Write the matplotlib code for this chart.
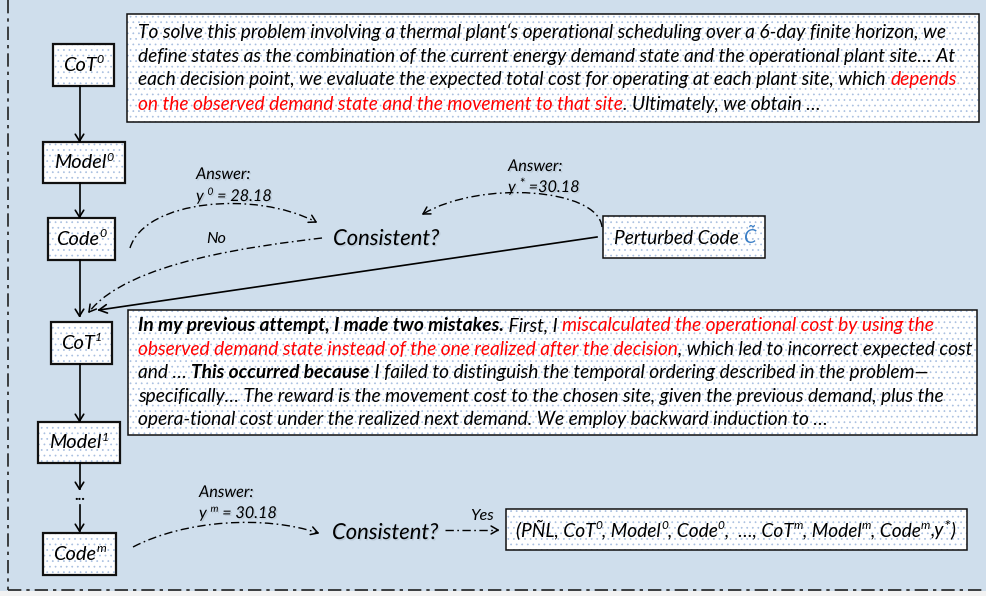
import numpy as np
import matplotlib
matplotlib.use("Agg")
import matplotlib.pyplot as plt
from matplotlib.patches import Rectangle, PathPatch
from matplotlib.path import Path
import matplotlib.patheffects as pe

plt.rcParams['font.family'] = ['Lato', 'DejaVu Sans']
plt.rcParams['mathtext.fontset'] = 'custom'
plt.rcParams['mathtext.it'] = 'Lato:italic'
plt.rcParams['mathtext.rm'] = 'Lato'
plt.rcParams['hatch.linewidth'] = 0.5

BG = '#CFDEEC'
RED = '#FF0000'
BLUE = '#3A7EC6'
DOT = '#A8BFE0'

# ---- content ----
# segments: (text, style)  n=normal, b=bold, r=red, s=superscript, a=asterisk
top_lines = [
    [("To solve this problem involving a thermal plant\u2018s operational scheduling over a 6-day finite horizon, we", "n")],
    [("define states as the combination of the current energy demand state and the operational plant site\u2026 At", "n")],
    [("each decision point, we evaluate the expected total cost for operating at each plant site, which ", "n"),
     ("depends", "r")],
    [("on the observed demand state and the movement to that site", "r"),
     (". Ultimately, we obtain \u2026", "n")],
]
mid_lines = [
    [("In my previous attempt, I made two mistakes.", "b"), (" First, I ", "n"),
     ("miscalculated the operational cost by using the", "r")],
    [("observed demand state instead of the one realized after the decision", "r"),
     (", which led to incorrect expected cost", "n")],
    [("and \u2026 ", "n"), ("This occurred because", "b"),
     (" I failed to distinguish the temporal ordering described in the problem\u2014", "n")],
    [("specifically\u2026 The reward is the movement cost to the chosen site, given the previous demand, plus the", "n")],
    [("opera-tional cost under the realized next demand. We employ backward induction to \u2026", "n")],
]
node_names = ['CoT', 'Model', 'Code', 'CoT', 'Model', 'Code']
node_sups = ['0', '0', '0', '1', '1', 'm']
answer_sups = ['0', '*', 'm']
answer_vals = ['= 28.18', '=30.18', '= 30.18']
final_segs = [("(P\u00d1L, CoT", "n"), ("0", "s"), (", Model", "n"), ("0", "s"), (", Code", "n"), ("0", "s"),
              (",  \u2026, CoT", "n"), ("m", "s"), (", Model", "n"), ("m", "s"), (", Code", "n"), ("m", "s"),
              (",y", "n"), ("*", "a"), (")", "n")]

fig = plt.figure(figsize=(9.86, 5.96), dpi=100, facecolor=BG)
ax = fig.add_axes([0, 0, 1, 1])
ax.set_xlim(0, 986)
ax.set_ylim(596, 0)
ax.axis('off')
renderer = fig.canvas.get_renderer()
PX = 100 / 72.0


def style_kw(style, size):
    kw = dict(fontsize=size, style='italic', va='baseline', ha='left')
    if 'b' in style:
        kw['weight'] = 'bold'
    kw['color'] = RED if 'r' in style else 'black'
    if 's' in style:
        kw['fontsize'] = size * 0.62
    if 'a' in style:
        kw['fontsize'] = size * 0.85
    return kw


def seg_width(s, kw):
    t1 = ax.text(0, 0, '|' + s + '|', **kw)
    t2 = ax.text(0, 0, '||', **kw)
    w = t1.get_window_extent(renderer).width - t2.get_window_extent(renderer).width
    t1.remove()
    t2.remove()
    return w


def draw_segs(x, y, segs, size, effects=None):
    for txt, st in segs:
        kw = style_kw(st, size)
        yy = y - size * PX * 0.38 if 's' in st else (y - size * PX * 0.25 if 'a' in st else y)
        ax.text(x, yy, txt, path_effects=effects, zorder=5, **kw)
        x += seg_width(txt, kw)
    return x


def segs_width(segs, size):
    return sum(seg_width(t, style_kw(st, size)) for t, st in segs)


def box(x0, y0, x1, y1, lw=1.1):
    ax.add_patch(Rectangle((x0, y0), x1 - x0, y1 - y0, facecolor='white', edgecolor=DOT,
                           hatch='...', lw=0, zorder=2))
    ax.add_patch(Rectangle((x0, y0), x1 - x0, y1 - y0, facecolor='none', edgecolor='#111111',
                           lw=lw, zorder=3))


def head(tip, frm, size=8, ang=30, lw=1.1):
    tip = np.array(tip, float)
    d = tip - np.array(frm, float)
    d /= np.hypot(*d)
    for s in (1, -1):
        a = np.radians(s * ang)
        r = np.array([d[0] * np.cos(a) - d[1] * np.sin(a), d[0] * np.sin(a) + d[1] * np.cos(a)])
        p = tip - size * r
        ax.plot([p[0], tip[0]], [p[1], tip[1]], color='black', lw=lw, solid_capstyle='round', zorder=4)


DASH = (0, (6, 2.5, 1.2, 2.5))


def curve(pts, ls=DASH, lw=1.0):
    codes = [Path.MOVETO] + [Path.CURVE4] * (len(pts) - 1) if len(pts) == 4 else [Path.MOVETO, Path.LINETO]
    ax.add_patch(PathPatch(Path(pts, codes), facecolor='none', edgecolor='black', lw=lw,
                           linestyle=ls, zorder=4))
    head(pts[-1], pts[-2])


# background pieces
ax.add_patch(Rectangle((0, 591), 986, 10, facecolor='#F2F2F2', edgecolor='none', zorder=0))
ax.plot([8, 8], [0, 590], color='#222222', lw=1.2, linestyle=(0, (8, 3, 2, 3)), zorder=1)
ax.plot([8, 986], [590, 590], color='#222222', lw=1.2, linestyle=(0, (8, 3, 2, 3)), zorder=1)

# body font size fitted so the first line spans the box like the reference
line1 = top_lines[0][0][0]
body = 12 * 806 / seg_width(line1, style_kw('n', 12))

# text boxes
box(127, 14, 979, 122)
for i, segs in enumerate(top_lines):
    draw_segs(138, [33, 57, 80, 105][i] + 5, segs, body)
box(128, 310, 977, 435)
for i, segs in enumerate(mid_lines):
    draw_segs(138, [326, 350, 373, 397, 420][i] + 5, segs, body)

# node boxes
node_boxes = [(53, 44, 114, 86), (43, 142, 125, 183), (48, 218, 115, 260),
              (51, 322, 112, 364), (38, 422, 120, 463), (43, 533, 116, 575)]
for (x0, y0, x1, y1), nm, sp in zip(node_boxes, node_names, node_sups):
    box(x0, y0, x1, y1, lw=1.6)
    segs = [(nm, 'n'), (sp, 's')]
    w = segs_width(segs, body * 1.05)
    draw_segs((x0 + x1) / 2 - w / 2, (y0 + y1) / 2 + 6, segs, body * 1.05)

# vertical flow
xv = 79.5
for ya, yb in [(86, 141), (183, 217), (260, 316), (364, 421), (463, 489), (505, 531)]:
    ax.plot([xv, xv], [ya, yb], color='black', lw=1.2, zorder=4)
    head((xv, yb), (xv, ya), size=8, ang=32, lw=1.2)
ax.text(xv, 496, '...', ha='center', va='center', fontsize=body * 0.8, weight='bold', zorder=5)

# perturbed code box
box(603, 216, 765, 258)
draw_segs(614, 244, [("Perturbed Code ", "n")], body)
xp = 614 + seg_width("Perturbed Code ", style_kw('n', body))
ax.text(xp, 244, r'$\tilde{C}$', color=BLUE, fontsize=body * 1.05, va='baseline', ha='left', zorder=5)

# final box
box(506, 509, 967, 550)
draw_segs(516, 536, final_segs, body)

# consistent? labels
shadow = [pe.SimplePatchShadow(offset=(1.0, -1.0), shadow_rgbFace='#7f8c99', alpha=0.25), pe.Normal()]
big = body * 1.15
ax.text(333, 245, 'Consistent?', fontsize=big, style='italic', va='baseline', ha='left',
        path_effects=shadow, zorder=5)
ax.text(332, 539, 'Consistent?', fontsize=big, style='italic', va='baseline', ha='left',
        path_effects=shadow, zorder=5)

# answers
small = body * 0.85
ans_pos = [(196, 174, 196), (508, 166, 187), (199, 492, 513)]
for (x, ya, yb), sp, val in zip(ans_pos, answer_sups, answer_vals):
    ax.text(x, ya + 5, 'Answer:', fontsize=small, style='italic', va='baseline', ha='left',
            path_effects=shadow, zorder=5)
    sup_style = 'a' if sp == '*' else 's'
    draw_segs(x, yb + 5, [("y ", "n"), (sp, sup_style), (" " + val, "n")], small, effects=shadow)
ax.text(206, 243, 'No', fontsize=small, style='italic', va='baseline', ha='left', zorder=5)
ax.text(470, 520, 'Yes', fontsize=small, style='italic', va='baseline', ha='left', zorder=5)

# arrows
curve([(130, 248), (145, 200), (255, 190), (316, 222)])
curve([(322, 238), (255, 246), (128, 262), (89, 312)])
curve([(602, 227), (598, 188), (480, 180), (423, 214)])
curve([(133, 547), (185, 520), (265, 515), (318, 533)])
curve([(445, 530), (498, 530)])
ax.plot([597, 99], [237, 310], color='black', lw=1.2, zorder=4)
head((99, 310), (597, 237), size=9, ang=28, lw=1.2)

fig.savefig('out.png', dpi=100, facecolor=BG)
